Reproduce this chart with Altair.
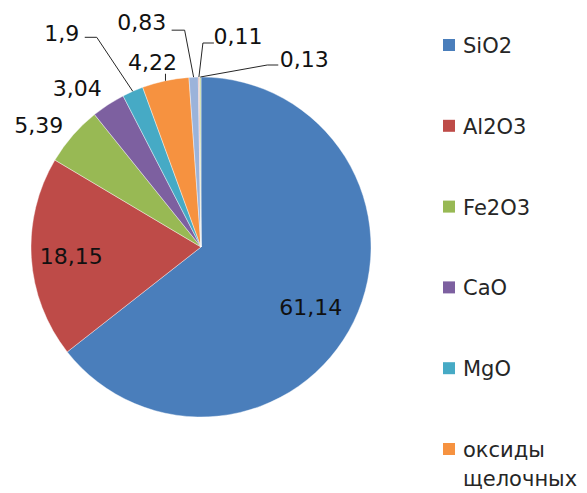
import altair as alt
import pandas as pd

# ---- data ----
names = ["SiO2", "Al2O3", "Fe2O3", "CaO", "MgO", "оксиды щелочных", "прочие 1", "прочие 2", "прочие 3"]
values = [61.14, 18.15, 5.39, 3.04, 1.9, 4.22, 0.83, 0.11, 0.13]
labels = [str(v).replace(".", ",") for v in values]
colors = ["#4A7EBB", "#BE4B48", "#98B954", "#7D60A0", "#46AAC5", "#F69240", "#9BB3DA", "#D99694", "#C3D69B"]
legend_names = names[:6]
legend_labels = ["SiO2", "Al2O3", "Fe2O3", "CaO", "MgO", "оксиды\nщелочных"]

# ---- styling: label placement relative to the slice's outer mid-point ----
lab_dx = [-43, 40, -34, -31, -71, -13, -52, 39, 104]
lab_dy = [-14, -2, -11, -16, -58, -19, -55, -41, -18]
leader = [0, 0, 0, 0, 1, 1, 1, 1, 1]
lead_ax = [0, 0, 0, 0, 35, 13, 43, -35, -37]
lead_ay = [0, 0, 0, 0, 4, 12, 8, 7, 6]
lead_bx = [0, 0, 0, 0, 23, 13, 30, -24, -26]
lead_by = [0, 0, 0, 0, 4, 12, 8, 7, 6]

CX, CY, R = 193, 239, 170
FONT = "DejaVu Sans"
FS = 22

df = pd.DataFrame({
    "name": names, "value": values, "label": labels, "idx": list(range(len(names))),
    "ldx": lab_dx, "ldy": lab_dy, "lead": leader,
    "lax": lead_ax, "lay": lead_ay, "lbx": lead_bx, "lby": lead_by,
})
leg = pd.DataFrame({"name": legend_names, "text": legend_labels})

color_scale = alt.Scale(domain=names, range=colors)

pie = alt.Chart(df).mark_arc(radius=R, stroke="white", strokeWidth=0.4).encode(
    theta=alt.Theta("value:Q", stack=True),
    color=alt.Color("name:N", scale=color_scale, legend=None),
    order=alt.Order("idx:Q"),
    x=alt.value(CX),
    y=alt.value(CY),
)

geo = alt.Chart(df).transform_joinaggregate(
    total="sum(value)"
).transform_window(
    cum="sum(value)", sort=[alt.SortField("idx")], frame=[None, 0]
).transform_calculate(
    ang="2*PI*(datum.cum - datum.value/2)/datum.total",
).transform_calculate(
    ex=f"{CX} + {R}*sin(datum.ang)",
    ey=f"{CY} - {R}*cos(datum.ang)",
).transform_calculate(
    lx="datum.ex + datum.ldx",
    ly="datum.ey + datum.ldy",
).transform_calculate(
    ax="datum.lx + datum.lax",
    ay="datum.ly + datum.lay",
    bx="datum.lx + datum.lbx",
    by="datum.ly + datum.lby",
)

lead1 = geo.transform_filter("datum.lead == 1").mark_rule(color="#262626", strokeWidth=1).encode(
    x=alt.X("ex:Q", scale=None), y=alt.Y("ey:Q", scale=None),
    x2="ax:Q", y2="ay:Q",
)
lead2 = geo.transform_filter("datum.lead == 1").mark_rule(color="#262626", strokeWidth=1).encode(
    x=alt.X("ax:Q", scale=None), y=alt.Y("ay:Q", scale=None),
    x2="bx:Q", y2="by:Q",
)
texts = geo.mark_text(font=FONT, fontSize=FS, color="#111111", align="center",
                      baseline="alphabetic", dy=8).encode(
    x=alt.X("lx:Q", scale=None), y=alt.Y("ly:Q", scale=None), text="label:N",
)

leg_y = alt.Y("name:N", scale=alt.Scale(domain=legend_names, range=[37, 441], padding=0), axis=None)
leg_sq = alt.Chart(leg).mark_square(size=144, opacity=1).encode(
    x=alt.value(441), y=leg_y,
    color=alt.Color("name:N", scale=color_scale, legend=None),
)
leg_txt = alt.Chart(leg).mark_text(font=FONT, fontSize=21, color="#262626", align="left",
                                   baseline="alphabetic", dy=8, lineBreak="\n", lineHeight=29).encode(
    x=alt.value(455), y=leg_y, text="text:N",
)

chart = alt.layer(pie, lead1, lead2, texts, leg_sq, leg_txt).resolve_scale(
    x="independent", y="independent"
).properties(
    width=571, height=485, padding=0, autosize=alt.AutoSizeParams(type="none"),
).configure_view(stroke=None)

chart.save("out.html", embed_options={"renderer": "svg", "actions": False})
